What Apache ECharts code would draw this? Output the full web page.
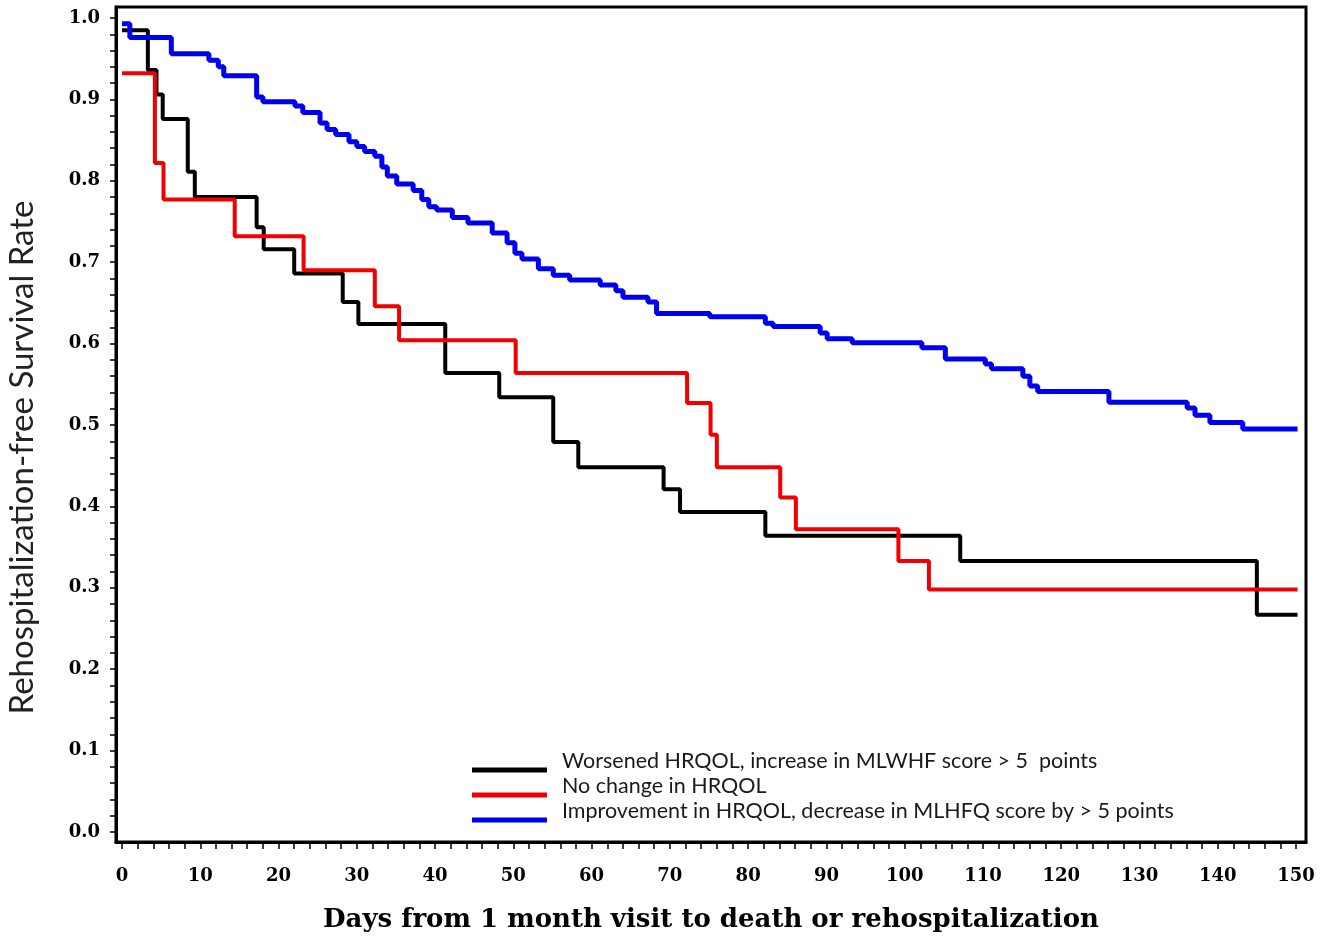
<!DOCTYPE html>
<html><head><meta charset="utf-8">
<script src="https://cdn.jsdelivr.net/npm/echarts@6/dist/echarts.min.js"></script>
<style>html,body{margin:0;padding:0;background:#fff}#c{width:1333px;height:940px}</style>
</head><body><div id="c"></div>
<script>
const seriesNames = [
  'Worsened HRQOL, increase in MLWHF score > 5  points',
  'No change in HRQOL',
  'Improvement in HRQOL, decrease in MLHFQ score by > 5 points'
];
// [day, survival] — value after the step at that day
const worsened = [[0,0.985],[3.3,0.936],[4.4,0.906],[5.2,0.876],[8.4,0.811],[9.3,0.780],[17.2,0.743],[18.1,0.716],[22,0.686],[28.2,0.651],[30.2,0.624],[41.3,0.564],[48.2,0.534],[55.1,0.479],[58.3,0.448],[69.2,0.421],[71.3,0.393],[82.2,0.364],[107.1,0.333],[145,0.267],[150.2,0.267]];
const noChange = [[0,0.932],[4.2,0.822],[5.3,0.777],[14.4,0.732],[23.2,0.690],[32.3,0.646],[35.4,0.604],[50.3,0.564],[72.2,0.527],[75.2,0.488],[76,0.448],[84.1,0.411],[86.1,0.372],[99.2,0.333],[103.1,0.298],[150.2,0.298]];
const improved = [[0,0.993],[1.0,0.976],[6.3,0.956],[11.1,0.948],[12.3,0.940],[13,0.929],[17.2,0.903],[18,0.897],[22.1,0.892],[23.1,0.884],[25.3,0.871],[26.2,0.863],[27.3,0.857],[29,0.848],[30,0.842],[31,0.836],[32.3,0.830],[33.2,0.817],[33.9,0.806],[35.1,0.796],[37.2,0.788],[38.3,0.777],[39.2,0.768],[40.2,0.764],[42.2,0.755],[44.2,0.748],[47.3,0.736],[49.2,0.724],[50.2,0.711],[51.1,0.704],[53.2,0.692],[55.1,0.684],[57.2,0.678],[61.1,0.672],[63.1,0.665],[64,0.657],[67.2,0.651],[68.3,0.637],[75.1,0.633],[82.2,0.625],[83.2,0.621],[89.2,0.613],[90.1,0.606],[93.3,0.601],[102.2,0.595],[105.2,0.581],[110.3,0.575],[111.1,0.569],[115.1,0.560],[116,0.548],[117,0.541],[126.1,0.528],[136.1,0.521],[137.1,0.512],[139,0.503],[143.2,0.495],[150.2,0.495]];
const xTickLabels = [0,10,20,30,40,50,60,70,80,90,100,110,120,130,140,150];
const yTickLabels = [0,0.1,0.2,0.3,0.4,0.5,0.6,0.7,0.8,0.9,1.0];
const xTicks = [0,2,4,6,8,10,12,14,16,18,20,22,24,26,28,30,32,34,36,38,40,42,44,46,48,50,52,54,56,58,60,62,64,66,68,70,72,74,76,78,80,82,84,86,88,90,92,94,96,98,100,102,104,106,108,110,112,114,116,118,120,122,124,126,128,130,132,134,136,138,140,142,144,146,148,150];
const yTicks = [0,0.02,0.04,0.06,0.08,0.1,0.12,0.14,0.16,0.18,0.2,0.22,0.24,0.26,0.28,0.3,0.32,0.34,0.36,0.38,0.4,0.42,0.44,0.46,0.48,0.5,0.52,0.54,0.56,0.58,0.6,0.62,0.64,0.66,0.68,0.7,0.72,0.74,0.76,0.78,0.8,0.82,0.84,0.86,0.88,0.9,0.92,0.94,0.96,0.98,1.0];
const colors = ['#000000','#f00000','#0000ee'];
const widths = [4,4,5];

const chart = echarts.init(document.getElementById('c'), null, {renderer:'canvas'});
chart.setOption({
  animation:false,
  backgroundColor:'#ffffff',
  grid:{left:116,right:27,top:7,bottom:98,containLabel:false,outerBoundsMode:'none',show:true,borderColor:'#000',borderWidth:3,backgroundColor:'transparent'},
  legend:{
    orient:'vertical',left:467,top:745,icon:'rect',itemWidth:75,itemHeight:5,itemGap:-11,
    data:seriesNames,
    formatter:name=>'{a|'+name+'}\n{b|}',
    textStyle:{fontFamily:'Lato',fontSize:21.5,color:'#1a1a1a',padding:[0,0,0,10],
      rich:{a:{fontFamily:'Lato',fontSize:21.5,color:'#1a1a1a',lineHeight:22},b:{lineHeight:18,fontSize:10}}}
  },
  xAxis:{
    type:'value',min:-0.77,max:151.28,
    name:'Days from 1 month visit to death or rehospitalization',
    nameLocation:'middle',nameGap:78,
    nameTextStyle:{fontFamily:'DejaVu Serif',fontWeight:'bold',fontSize:26,color:'#000',verticalAlign:'middle'},
    splitLine:{show:false},
    axisLine:{show:true,onZero:false,lineStyle:{color:'#000',width:3}},
    axisTick:{show:true,inside:false,length:7,lineStyle:{color:'#000',width:1.5},customValues:xTicks},
    axisLabel:{customValues:xTickLabels,margin:25,fontFamily:'DejaVu Serif',fontWeight:'bold',fontSize:18,color:'#000'}
  },
  yAxis:{
    type:'value',min:-0.0123,max:1.0135,
    name:'Rehospitalization-free Survival Rate',
    nameLocation:'middle',nameGap:94,nameRotate:90,
    nameTextStyle:{fontFamily:'Lato',fontSize:33,color:'#222',verticalAlign:'middle',padding:[0,66,0,0]},
    splitLine:{show:false},
    axisLine:{show:true,onZero:false,lineStyle:{color:'#000',width:3}},
    axisTick:{show:true,inside:false,length:6,lineStyle:{color:'#000',width:1.5},customValues:yTicks},
    axisLabel:{customValues:yTickLabels,margin:16,fontFamily:'DejaVu Serif',fontWeight:'bold',fontSize:18,color:'#000',formatter:v=>v.toFixed(1)}
  },
  series:seriesNames.map((n,i)=>({
    name:n,type:'line',step:'end',data:[worsened,noChange,improved][i],showSymbol:false,
    color:colors[i],lineStyle:{width:widths[i],color:colors[i]}
  }))
});
</script></body></html>
